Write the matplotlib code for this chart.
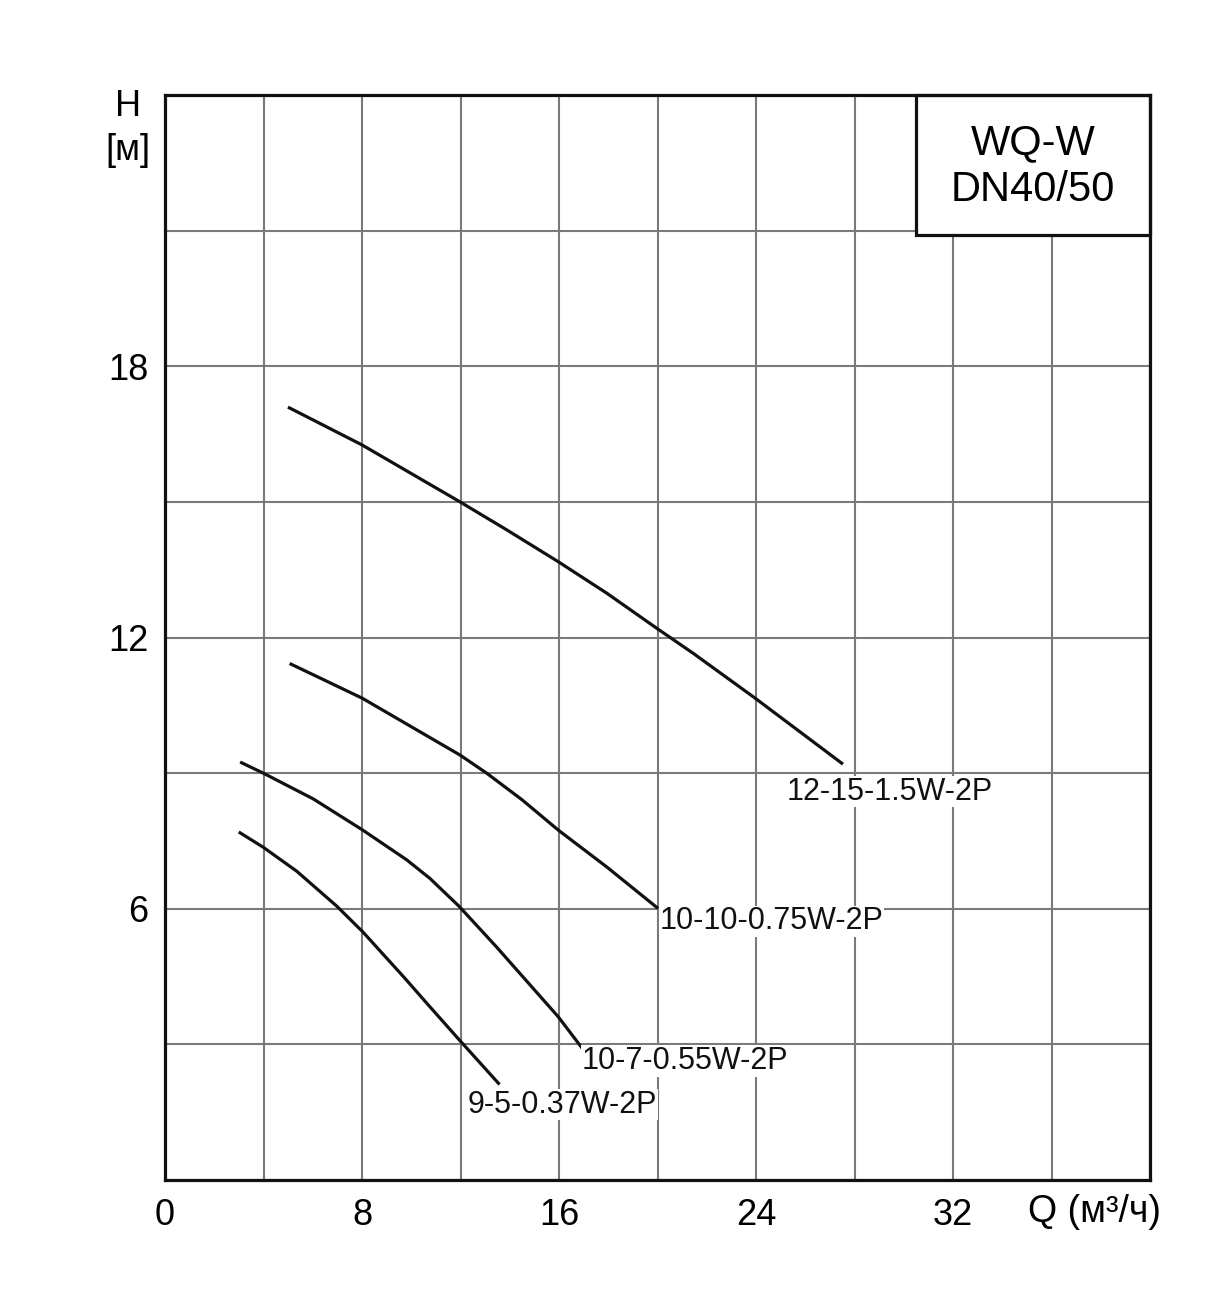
import matplotlib.pyplot as plt
from matplotlib.patches import Rectangle

plt.rcParams['font.family'] = ['Liberation Sans', 'DejaVu Sans']

# curve data: Q (m3/h), H (m)
q_12_15 = [5.05, 8.0, 11.98, 13.88, 15.96, 17.94, 19.98, 21.45, 23.96, 27.48]
h_12_15 = [17.08, 16.26, 15.00, 14.38, 13.68, 12.98, 12.20, 11.65, 10.66, 9.22]

q_10_10 = [5.12, 8.0, 11.98, 13.06, 14.5, 15.97, 17.95, 19.97]
h_10_10 = [11.41, 10.66, 9.40, 9.00, 8.41, 7.74, 6.92, 6.03]

q_10_7 = [3.11, 3.99, 6.02, 8.03, 9.82, 10.76, 11.95, 13.47, 15.97, 16.92]
h_10_7 = [9.23, 9.00, 8.43, 7.74, 7.08, 6.67, 6.05, 5.15, 3.61, 2.93]

q_9_5 = [3.05, 3.99, 5.35, 6.97, 8.03, 9.68, 10.76, 11.95, 13.54]
h_9_5 = [7.68, 7.36, 6.83, 6.06, 5.49, 4.50, 3.83, 3.10, 2.14]

names = ['12-15-1.5W-2P', '10-10-0.75W-2P', '10-7-0.55W-2P', '9-5-0.37W-2P']
label_q = [25.26, 20.1, 16.92, 12.3]
label_h = [8.59, 5.72, 2.63, 1.67]

fig = plt.figure(figsize=(12.31, 12.99), dpi=100)
ax = fig.add_axes([165 / 1231, 1 - 1180 / 1299, 985 / 1231, 1085 / 1299])

for q, h in [(q_12_15, h_12_15), (q_10_10, h_10_10), (q_10_7, h_10_7), (q_9_5, h_9_5)]:
    ax.plot(q, h, color='#111111', lw=2.3, zorder=3, solid_joinstyle='round')

for name, x, y in zip(names, label_q, label_h):
    ax.text(x, y, name, fontsize=22, color='#111111', ha='left', va='center',
            zorder=4, bbox=dict(facecolor='white', edgecolor='none', pad=0.5))

ax.set_xlim(0, 40)
ax.set_ylim(0, 24)
ax.set_xticks(range(0, 41, 4), minor=True)
ax.set_yticks(range(0, 25, 3), minor=True)
ax.set_xticks([0, 8, 16, 24, 32])
ax.set_yticks([6, 12, 18])
ax.grid(which='both', color='#7a7a7a', lw=1.5)
ax.tick_params(which='both', length=0)
ax.tick_params(axis='y', pad=12, labelsize=26)
ax.tick_params(axis='x', pad=13, labelsize=26)
for s in ax.spines.values():
    s.set_linewidth(2.3)
    s.set_color('#111111')
    s.set_zorder(5)

# title box in upper right
ax.add_patch(Rectangle((751 / 985, 945 / 1085), 234 / 985, 140 / 1085,
                       transform=ax.transAxes, facecolor='white',
                       edgecolor='#111111', lw=2.3, zorder=5, clip_on=False))
ax.text(868 / 985, 1037 / 1085, 'WQ-W', transform=ax.transAxes, fontsize=30,
        ha='center', va='center', zorder=6)
ax.text(868 / 985, 990 / 1085, 'DN40/50', transform=ax.transAxes, fontsize=30,
        ha='center', va='center', zorder=6)

fig.text(128 / 1231, 1 - 106 / 1299, 'H', fontsize=26, ha='center', va='center')
fig.text(128 / 1231, 1 - 150 / 1299, '[м]', fontsize=26, ha='center', va='center')
fig.text(1095 / 1231, 1 - 1212 / 1299, 'Q (м³/ч)', fontsize=27, ha='center', va='center')

fig.savefig('out.png', dpi=100, facecolor='white')
